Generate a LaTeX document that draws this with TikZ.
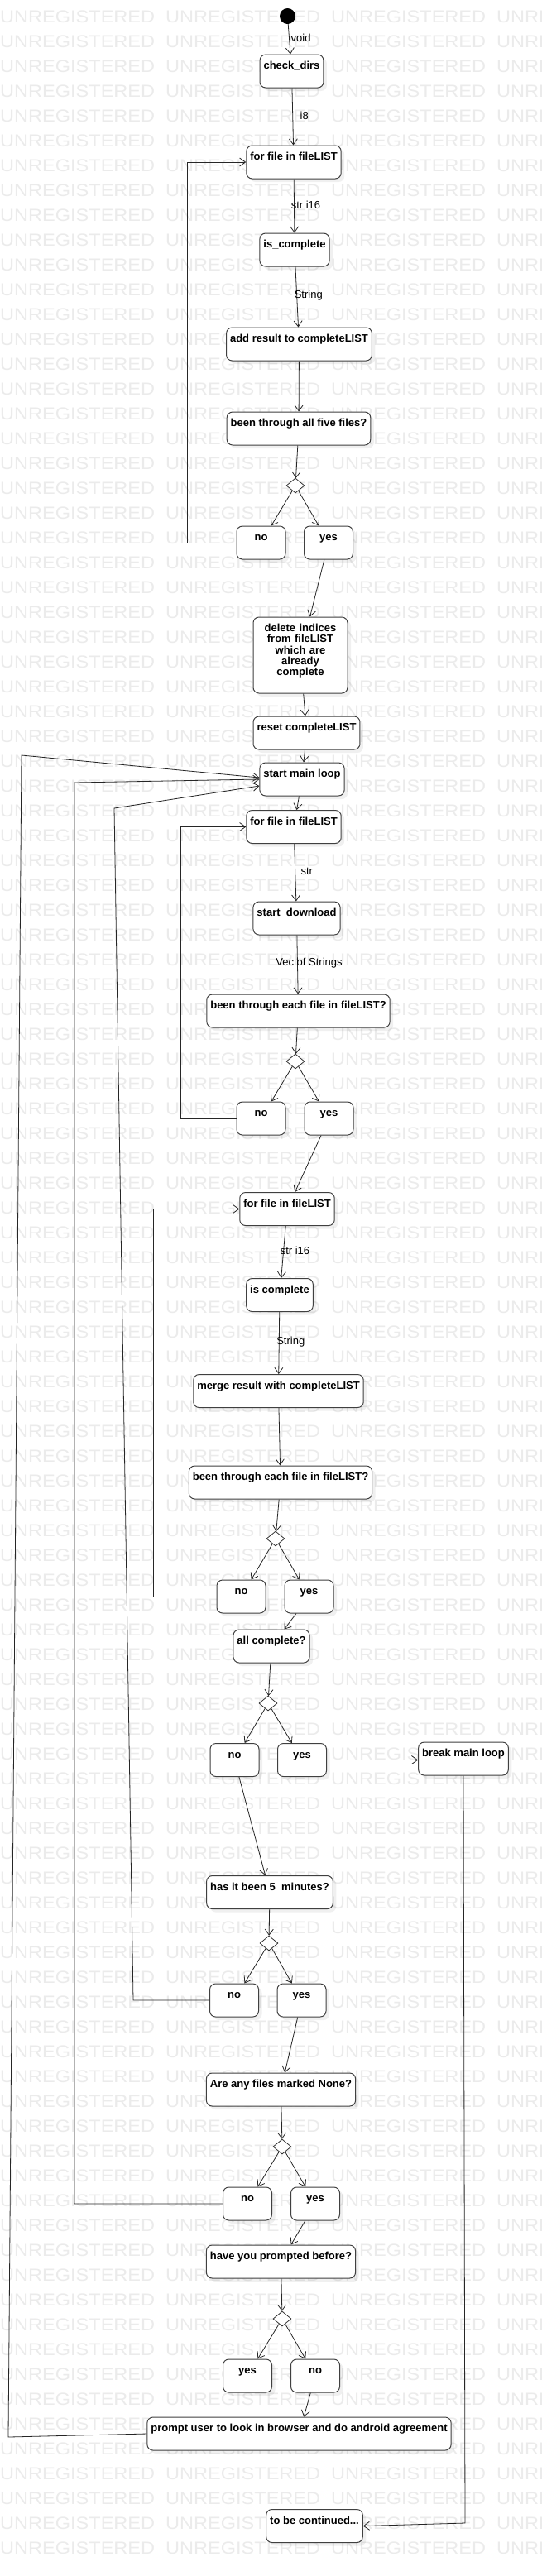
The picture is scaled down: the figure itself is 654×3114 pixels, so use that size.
\documentclass[tikz,border=0pt]{standalone}
\usepackage{fontspec}
\setmainfont{Liberation Sans}
\usetikzlibrary{arrows.meta,shapes.geometric,shadows}

\tikzset{
    activity/.style={draw=black!75, line width=1pt, fill=white, rounded corners=7pt,
        font=\fontsize{13}{13.2}\selectfont\bfseries, inner xsep=4.5pt, inner ysep=4pt,
        text height=13.7pt, text depth=18.3pt,
        drop shadow={shadow xshift=4pt, shadow yshift=-4pt, fill=black, opacity=0.06}},
    answer/.style={activity, minimum width=59pt},
    choice/.style={diamond, draw=black!80, line width=0.8pt, fill=white,
        minimum width=22pt, minimum height=18pt, inner sep=0pt},
    startdot/.style={circle, fill=black, minimum size=19pt, inner sep=0pt},
    flow/.style={draw=black!85, line width=0.8pt, -{Straight Barb[length=7pt,width=10pt]}},
    edgelabel/.style={font=\fontsize{13}{13}\selectfont, xshift=14pt, yshift=1.5pt, inner sep=0pt},
    watermark/.style={font=\fontsize{21}{21}\selectfont, text=black!8, anchor=west,
        inner sep=0pt, xscale=1.12}
}

\begin{document}
\begin{tikzpicture}[x=1pt, y=-1pt]
    \useasboundingbox (0, 0) rectangle (654, 3114);
    \fill [white] (0, 0) rectangle (654, 3114);
    \begin{scope}
        \clip (0, 0) rectangle (654, 3114);
        \foreach \row in {0,...,102}
            \foreach \col in {0,...,3}
                \node [watermark] at (\col*200, 20+\row*30) {UNREGISTERED};
    \end{scope}

    \node [startdot] (start) at (347.5, 19.5) {};
    \node [activity] (checkdirs) at (352.5, 86) {check\_dirs};
    \node [activity] (forA) at (355, 196) {for file in fileLIST};
    \node [activity] (iscompA) at (356, 302) {is\_complete};
    \node [activity] (addres) at (361.5, 416) {add result to completeLIST};
    \node [activity] (allfive) at (361, 518) {been through all five files?};
    \node [choice] (decA) at (357, 587) {};
    \node [answer] (noA) at (315.5, 656) {no};
    \node [answer] (yesA) at (397, 656) {yes};
    \node [activity, text width=105pt, align=center, text depth=70.3pt] (delidx) at (363, 792)
        {delete indices\\from fileLIST\\which are\\already\\complete};
    \node [activity] (reset) at (370.5, 886) {reset completeLIST};
    \node [activity] (mainloop) at (365, 942) {start main loop};
    \node [activity] (forB) at (355, 999.5) {for file in fileLIST};
    \node [activity] (download) at (358.5, 1110) {start\_download};
    \node [activity] (eachB) at (360.5, 1222) {been through each file in fileLIST?};
    \node [choice] (decB) at (357, 1283) {};
    \node [answer] (noB) at (315.5, 1352) {no};
    \node [answer] (yesB) at (397.5, 1352) {yes};
    \node [activity] (forC) at (347, 1461.5) {for file in fileLIST};
    \node [activity] (iscompC) at (338, 1565.5) {is complete};
    \node [activity] (merge) at (336.5, 1681.5) {merge result with completeLIST};
    \node [activity] (eachC) at (339, 1792) {been through each file in fileLIST?};
    \node [choice] (decC) at (333, 1860) {};
    \node [answer] (noC) at (291.5, 1930) {no};
    \node [answer] (yesC) at (373.5, 1930) {yes};
    \node [activity] (allcomp) at (328, 1990) {all complete?};
    \node [choice] (decD) at (324, 2059) {};
    \node [answer] (noD) at (283.5, 2127.5) {no};
    \node [answer] (yesD) at (365, 2127.5) {yes};
    \node [activity] (brk) at (560, 2126) {break main loop};
    \node [activity] (fivemin) at (326, 2287.5) {has it been 5~ minutes?};
    \node [choice] (decE) at (325, 2349) {};
    \node [answer] (noE) at (283, 2418) {no};
    \node [answer] (yesE) at (364.5, 2418) {yes};
    \node [activity] (anynone) at (339.5, 2526) {Are any files marked None?};
    \node [choice] (decF) at (341, 2595) {};
    \node [answer] (noF) at (299, 2664) {no};
    \node [answer] (yesF) at (381, 2664) {yes};
    \node [activity] (prompted) at (339.5, 2734) {have you prompted before?};
    \node [choice] (decG) at (341, 2803) {};
    \node [answer] (yesG) at (299, 2872) {yes};
    \node [answer] (noG) at (381, 2872) {no};
    \node [activity] (promptuser) at (361.5, 2942) {prompt user to look in browser and do android agreement};
    \node [activity] (tbc) at (380, 3053.5) {to be continued...};

    \coordinate (loopA) at (226, 656);
    \coordinate (loopB) at (218, 1352);
    \coordinate (loopC) at (185, 1930);
    \coordinate (waitBack) at (161, 2418);
    \coordinate (waitTop) at (138, 977);
    \coordinate (noneTop) at (90, 946);
    \coordinate (promptBack) at (10, 2946);
    \coordinate (promptTop) at (26, 913);
    \coordinate (brkDown) at (562, 3050);

    \draw [flow] (start) -- node [edgelabel] {void} (checkdirs);
    \draw [flow] (checkdirs) -- node [edgelabel] {i8} (forA);
    \draw [flow] (forA) -- node [edgelabel] {str i16} (iscompA);
    \draw [flow] (iscompA) -- node [edgelabel] {String} (addres);
    \draw [flow] (addres) -- (allfive);
    \draw [flow] (allfive) -- (decA);
    \draw [flow] (decA) -- (noA);
    \draw [flow] (decA) -- (yesA);
    \draw [flow] (noA.west) -- (loopA) |- (forA.west);
    \draw [flow] (yesA) -- (delidx);
    \draw [flow] (delidx) -- (reset);
    \draw [flow] (reset) -- (mainloop);
    \draw [flow] (mainloop) -- (forB);
    \draw [flow] (forB) -- node [edgelabel] {str} (download);
    \draw [flow] (download) -- node [edgelabel] {Vec of Strings} (eachB);
    \draw [flow] (eachB) -- (decB);
    \draw [flow] (decB) -- (noB);
    \draw [flow] (decB) -- (yesB);
    \draw [flow] (noB.west) -- (loopB) |- (forB.west);
    \draw [flow] (yesB) -- (forC);
    \draw [flow] (forC) -- node [edgelabel] {str i16} (iscompC);
    \draw [flow] (iscompC) -- node [edgelabel] {String} (merge);
    \draw [flow] (merge) -- (eachC);
    \draw [flow] (eachC) -- (decC);
    \draw [flow] (decC) -- (noC);
    \draw [flow] (decC) -- (yesC);
    \draw [flow] (noC.west) -- (loopC) |- (forC.west);
    \draw [flow] (yesC) -- (allcomp);
    \draw [flow] (allcomp) -- (decD);
    \draw [flow] (decD) -- (noD);
    \draw [flow] (decD) -- (yesD);
    \draw [flow] (yesD.east) -- (yesD.east -| brk.west);
    \draw [flow] (noD) -- (fivemin);
    \draw [flow] (fivemin) -- (decE);
    \draw [flow] (decE) -- (noE);
    \draw [flow] (decE) -- (yesE);
    \draw [flow] (noE.west) -- (waitBack) -- (waitTop) -- ([yshift=-8pt]mainloop.west);
    \draw [flow] (yesE) -- (anynone);
    \draw [flow] (anynone) -- (decF);
    \draw [flow] (decF) -- (noF);
    \draw [flow] (decF) -- (yesF);
    \draw [flow] (noF.west) -| (noneTop) -- (mainloop.west);
    \draw [flow] (yesF) -- (prompted);
    \draw [flow] (prompted) -- (decG);
    \draw [flow] (decG) -- (yesG);
    \draw [flow] (decG) -- (noG);
    \draw [flow] (noG) -- (promptuser);
    \draw [flow] (promptuser.west) -- (promptBack) -- (promptTop) -- ([yshift=2pt]mainloop.west);
    \draw [flow] (brk.south) -- (brkDown) -- (tbc.east);
\end{tikzpicture}
\end{document}
